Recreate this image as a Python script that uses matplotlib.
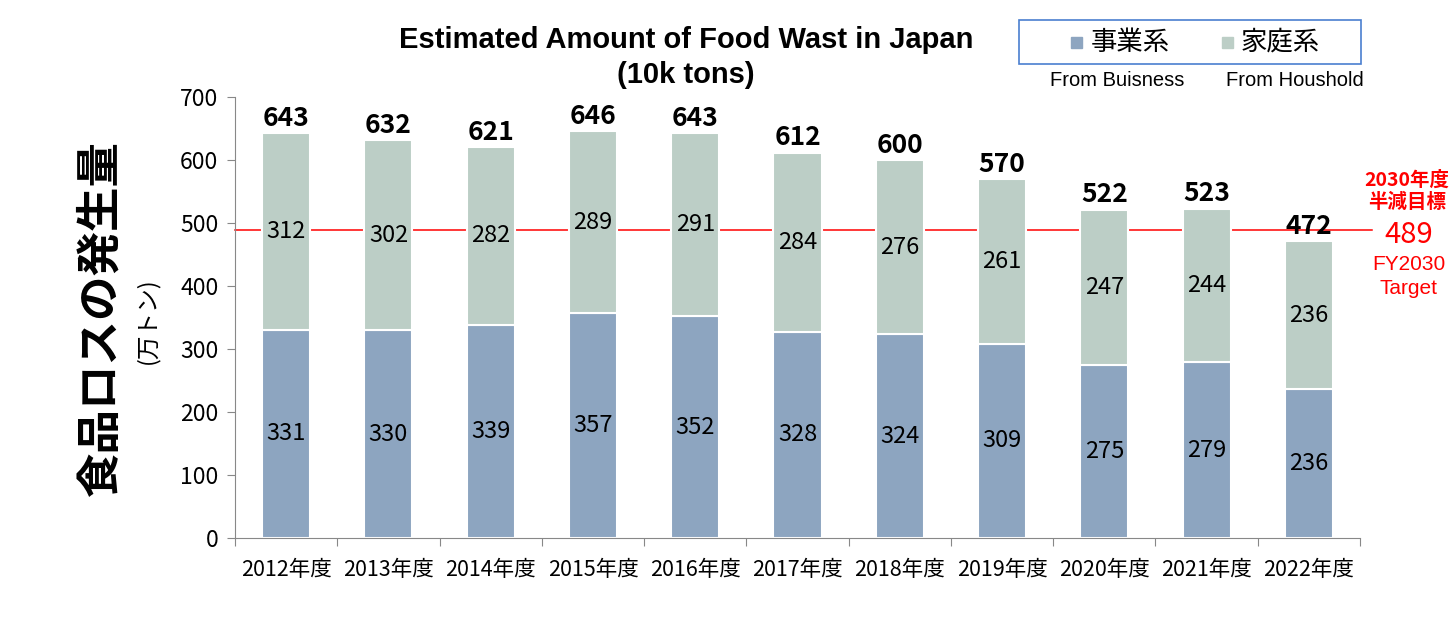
import matplotlib
matplotlib.use("Agg")
import matplotlib.pyplot as plt
from matplotlib.patches import Rectangle

years = ["2012年度", "2013年度", "2014年度", "2015年度", "2016年度", "2017年度",
         "2018年度", "2019年度", "2020年度", "2021年度", "2022年度"]
business = [331, 330, 339, 357, 352, 328, 324, 309, 275, 279, 236]
household = [312, 302, 282, 289, 291, 284, 276, 261, 247, 244, 236]
totals = [643, 632, 621, 646, 643, 612, 600, 570, 522, 523, 472]
target = 489
yticks = [0, 100, 200, 300, 400, 500, 600, 700]

C_BUS = "#8DA5C0"
C_HOME = "#BCCEC6"
CJK = ["Noto Sans CJK JP", "DejaVu Sans"]
EN = ["Liberation Sans", "DejaVu Sans"]

fig = plt.figure(figsize=(14.56, 6.29), dpi=100)
ax = fig.add_axes([235/1456, 1-538/629, (1360-235)/1456, (538-97.5)/629])

x = list(range(len(years)))
w = 0.47
# target line behind bars
ax.plot([-0.5, 10.62], [target, target], color="#FF0000", lw=1.1, zorder=1, clip_on=False)
ax.bar(x, business, width=w, color=C_BUS, edgecolor="white", linewidth=1.5, zorder=2)
ax.bar(x, household, width=w, bottom=business, color=C_HOME, edgecolor="white", linewidth=1.5, zorder=2)

for i in x:
    ax.text(i, business[i]/2, str(business[i]), ha="center", va="center",
            fontsize=17, family=CJK, zorder=3)
    ax.text(i, business[i] + household[i]/2, str(household[i]), ha="center", va="center",
            fontsize=17, family=CJK, zorder=3)
    ax.annotate(str(totals[i]), (i, totals[i]), xytext=(0, 1), textcoords="offset points",
                ha="center", va="bottom", fontsize=19, fontweight="bold", family=CJK)

ax.set_xlim(-0.5, 10.5)
ax.set_ylim(0, 700)
ax.set_yticks(yticks)
ax.set_yticklabels([str(v) for v in yticks], family=CJK, fontsize=16.5)
ax.set_xticks([i - 0.5 for i in range(len(years) + 1)], minor=False)
ax.set_xticklabels([""] * (len(years) + 1))
ax.set_xticks(x, minor=True)
ax.set_xticklabels(years, minor=True, family=CJK, fontsize=15.5)
ax.tick_params(axis="x", which="minor", length=0, pad=15)
ax.tick_params(axis="x", which="major", length=6, color="#888888")
ax.tick_params(axis="y", length=6, color="#888888", pad=6)
for s in ["top", "right"]:
    ax.spines[s].set_visible(False)
ax.spines["left"].set_color("#888888")
ax.spines["bottom"].set_color("#888888")

# title
fig.text(686/1456, 1-40/629, "Estimated Amount of Food Wast in Japan", ha="center", va="center",
         fontsize=21, fontweight="bold", family=EN)
fig.text(686/1456, 1-75/629, "(10k tons)", ha="center", va="center",
         fontsize=21, fontweight="bold", family=EN)

# y labels
fig.text(100/1456, 1-318/629, "食品ロスの発生量", rotation=90, ha="center", va="center",
         fontsize=32, fontweight="bold", family=CJK)
fig.text(147/1456, 1-321/629, "(万トン)", rotation=90, ha="center", va="center",
         fontsize=17, family=CJK)

# legend box
fig.patches.append(Rectangle((1019/1456, 1-64/629), (1361-1019)/1456, 44/629,
                             transform=fig.transFigure, fill=False, edgecolor="#4A7FD0", lw=1.2))
fig.patches.append(Rectangle((1071/1456, 1-48/629), 11/1456, 11/629,
                             transform=fig.transFigure, color=C_BUS))
fig.text(1091/1456, 1-42/629, "事業系", ha="left", va="center", fontsize=19, family=CJK)
fig.patches.append(Rectangle((1222/1456, 1-48/629), 11/1456, 11/629,
                             transform=fig.transFigure, color=C_HOME))
fig.text(1241/1456, 1-42/629, "家庭系", ha="left", va="center", fontsize=19, family=CJK)
fig.text(1117/1456, 1-80/629, "From Buisness", ha="center", va="center", fontsize=14.5, family=EN)
fig.text(1295/1456, 1-80/629, "From Houshold", ha="center", va="center", fontsize=14.5, family=EN)

# target annotation
RED = "#FF0000"
fig.text(1407/1456, 1-180/629, "2030年度", ha="center", va="center", color=RED,
         fontsize=14, fontweight="bold", family=CJK)
fig.text(1407/1456, 1-202/629, "半減目標", ha="center", va="center", color=RED,
         fontsize=14, fontweight="bold", family=CJK)
fig.text(1409/1456, 1-235/629, str(target), ha="center", va="center", color=RED,
         fontsize=21, family=CJK)
fig.text(1409/1456, 1-265/629, "FY2030", ha="center", va="center", color=RED,
         fontsize=15, family=EN)
fig.text(1409/1456, 1-289/629, "Target", ha="center", va="center", color=RED,
         fontsize=15, family=EN)

fig.savefig("out.png", dpi=100, facecolor="white")
